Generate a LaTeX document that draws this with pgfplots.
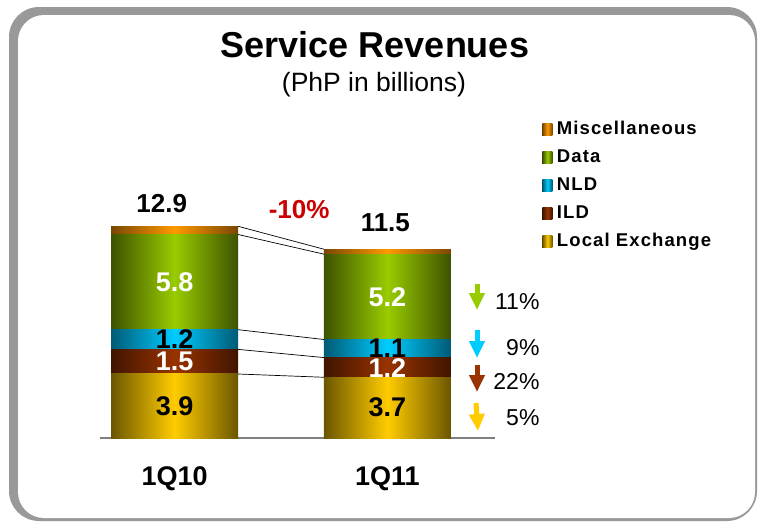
\documentclass[border=0pt]{standalone}
\usepackage{fontspec}
\setmainfont{Liberation Sans}
\newfontfamily\legfont[LetterSpace=6]{Liberation Sans}
\usepackage{pgfplots}
\pgfplotsset{compat=1.18}
\usetikzlibrary{arrows.meta}
\newcommand\fs[1]{\fontsize{#1}{#1}\selectfont}
\definecolor{framegray}{HTML}{999999}
\definecolor{axisgray}{HTML}{808080}
\definecolor{locmid}{HTML}{FFCC00}
\definecolor{locdark}{HTML}{6B5600}
\definecolor{ildmid}{HTML}{993300}
\definecolor{ilddark}{HTML}{401500}
\definecolor{nldmid}{HTML}{00CCFF}
\definecolor{nlddark}{HTML}{005A75}
\definecolor{datamid}{HTML}{99CC00}
\definecolor{datadark}{HTML}{3D5200}
\definecolor{miscmid}{HTML}{FF9900}
\definecolor{miscdark}{HTML}{7A4600}
\definecolor{redlab}{HTML}{CC0000}
\pgfplotsset{
  base/.style={
    width=395pt, height=238pt, scale only axis,
    at={(100pt,-438pt)}, anchor=south west,
    xmin=-0.35, xmax=1.505, ymin=0, ymax=14.5,
    bar width=127pt, clip=false,
    ytick=\empty, major tick length=0pt,
  },
  locsty/.style={draw=none, left color=locdark, right color=locdark, middle color=locmid},
  ildsty/.style={draw=none, left color=ilddark, right color=ilddark, middle color=ildmid},
  nldsty/.style={draw=none, left color=nlddark, right color=nlddark, middle color=nldmid},
  datasty/.style={draw=none, left color=datadark, right color=datadark, middle color=datamid},
  miscsty/.style={draw=none, left color=miscdark, right color=miscdark, middle color=miscmid},
}
\begin{document}
\begin{tikzpicture}
\begin{scope}[x=1pt,y=-1pt]
\useasboundingbox (0,0) rectangle (758,522);
\fill[framegray, rounded corners=30pt] (9,7) rectangle (757,521);
\fill[white, rounded corners=26pt] (18,15) rectangle (755,518);
\node[font=\bfseries\fs{36}] at (375,45) {Service Revenues};
\node[font=\fs{26.5}] at (374,85) {(PhP in billions)};
% change arrows
\draw[datamid, line width=5pt, -{Triangle[width=15pt,length=17pt]}] (477,284) -- (477,310);
\draw[nldmid, line width=5pt, -{Triangle[width=15pt,length=17pt]}] (477,330) -- (477,358);
\draw[ildmid, line width=5pt, -{Triangle[width=15pt,length=17pt]}] (477,365) -- (477,392);
\draw[locmid, line width=5pt, -{Triangle[width=15pt,length=17pt]}] (476,403) -- (478,431);
\node[anchor=east, font=\fs{23}] at (543,302) {11\%};
\node[anchor=east, font=\fs{23}] at (543,348) {9\%};
\node[anchor=east, font=\fs{23}] at (543,382) {22\%};
\node[anchor=east, font=\fs{23}] at (543,418) {5\%};
\end{scope}
% ---- first bar (1Q10), with axis line, tick labels and legend
\begin{axis}[base, ybar stacked,
  axis y line=none, axis x line*=bottom,
  x axis line style={draw=axisgray, line width=1.3pt, -},
  xtick={0,1}, xticklabels={1Q10,1Q11},
  xticklabel style={font=\bfseries\fs{27}, yshift=-25pt},
  reverse legend,
  legend cell align=left,
  legend image code/.code={\fill[#1] (0pt,-6pt) rectangle (10pt,6pt);},
  legend style={at={(axis description cs:1.112,1.345)}, anchor=north west,
    draw=none, fill=none, font=\legfont\bfseries\fs{18.5}, row sep=8.5pt,
    nodes={inner sep=1.5pt, text height=13pt, text depth=3.5pt},
    /tikz/every odd column/.append style={column sep=3pt}},
]
\addplot[locsty] coordinates {(0,3.9)};
\addlegendentry{Local Exchange}
\addplot[ildsty] coordinates {(0,1.5)};
\addlegendentry{ILD}
\addplot[nldsty] coordinates {(0,1.2)};
\addlegendentry{NLD}
\addplot[datasty] coordinates {(0,5.8)};
\addlegendentry{Data}
\addplot[miscsty] coordinates {(0,0.5)};
\addlegendentry{Miscellaneous}
\end{axis}
% ---- second bar (1Q11)
\begin{axis}[base, ybar stacked, hide axis]
\addplot[locsty] coordinates {(1,3.7)};
\addplot[ildsty] coordinates {(1,1.2)};
\addplot[nldsty] coordinates {(1,1.1)};
\addplot[datasty] coordinates {(1,5.2)};
\addplot[miscsty] coordinates {(1,0.3)};
\end{axis}
% ---- connectors and value labels on top
\begin{axis}[base, hide axis]
\draw[black, line width=0.7pt] (axis cs:0.298,3.9) -- (axis cs:0.702,3.7);
\draw[black, line width=0.7pt] (axis cs:0.298,5.4) -- (axis cs:0.702,4.9);
\draw[black, line width=0.7pt] (axis cs:0.298,6.6) -- (axis cs:0.702,6.0);
\draw[black, line width=0.7pt] (axis cs:0.298,12.4) -- (axis cs:0.702,11.2);
\draw[black, line width=0.7pt] (axis cs:0.298,12.9) -- (axis cs:0.702,11.5);
\node[font=\bfseries\fs{27}, black] at (axis cs:0,1.95) {3.9};
\node[font=\bfseries\fs{27}, white] at (axis cs:0,4.65) {1.5};
\node[font=\bfseries\fs{27}, black] at (axis cs:0,6.0) {1.2};
\node[font=\bfseries\fs{27}, white] at (axis cs:0,9.5) {5.8};
\node[font=\bfseries\fs{27}, black] at (axis cs:1,1.85) {3.7};
\node[font=\bfseries\fs{27}, white] at (axis cs:1,4.25) {1.2};
\node[font=\bfseries\fs{27}, black] at (axis cs:1,5.45) {1.1};
\node[font=\bfseries\fs{27}, white] at (axis cs:1,8.6) {5.2};
\node[font=\bfseries\fs{26}, black] at (axis cs:-0.06,14.3) {12.9};
\node[font=\bfseries\fs{26}, black] at (axis cs:0.99,13.1) {11.5};
\node[font=\bfseries\fs{26}, redlab] at (axis cs:0.585,13.9) {-10\%};
\end{axis}
\end{tikzpicture}
\end{document}
